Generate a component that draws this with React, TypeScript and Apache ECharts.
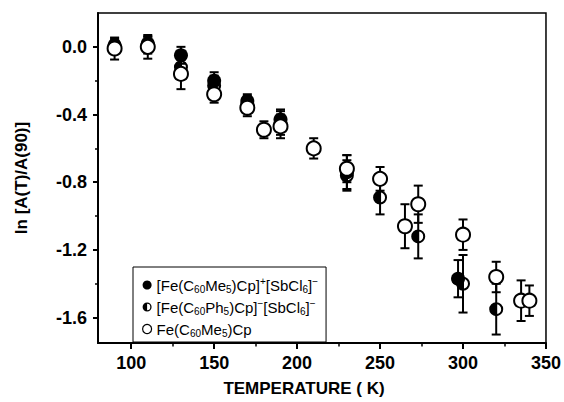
import React, { useEffect, useRef } from "react";
import * as echarts from "echarts";

// ---- data ----
const seriesNames = [
  "[Fe(C₆₀Me₅)Cp]⁺[SbCl₆]⁻",
  "[Fe(C₆₀Ph₅)Cp]⁻[SbCl₆]⁻",
  "Fe(C₆₀Me₅)Cp",
];
const legendRichText = [
  "[Fe(C{s|60}Me{s|5})Cp]{p|+}[SbCl{s|6}]{p|−}",
  "[Fe(C{s|60}Ph{s|5})Cp]{p|−}[SbCl{s|6}]{p|−}",
  "Fe(C{s|60}Me{s|5})Cp",
];

const tempMe5Cation = [90, 110, 130, 150, 170, 190, 230, 297];
const lnMe5Cation = [0.01, 0.02, -0.05, -0.2, -0.32, -0.43, -0.74, -1.37];
const errMe5Cation = [0.04, 0.04, 0.05, 0.05, 0.04, 0.06, 0.1, 0.11];

const tempPh5Salt = [90, 110, 130, 150, 170, 190, 230, 250, 273, 300, 320];
const lnPh5Salt = [0.0, 0.01, -0.12, -0.23, -0.34, -0.45, -0.76, -0.89, -1.12, -1.4, -1.55];
const errPh5Salt = [0.04, 0.05, 0.07, 0.06, 0.05, 0.07, 0.09, 0.1, 0.13, 0.17, 0.15];

const tempNeutral = [90, 110, 130, 150, 170, 180, 190, 210, 230, 250, 265, 273, 300, 320, 335, 340];
const lnNeutral = [-0.01, 0.0, -0.16, -0.28, -0.36, -0.49, -0.47, -0.6, -0.72, -0.78, -1.06, -0.93, -1.11, -1.36, -1.5, -1.5];
const errNeutral = [0.065, 0.07, 0.09, 0.05, 0.05, 0.05, 0.07, 0.06, 0.08, 0.07, 0.13, 0.11, 0.09, 0.09, 0.12, 0.09];

const xMajorTicks = [100, 150, 200, 250, 300, 350];
const xMinorTicks = [125, 175, 225, 275, 325];
const yMajorTicks = [0, -0.4, -0.8, -1.2, -1.6];
const yMinorTicks = [-0.2, -0.6, -1.0, -1.4];

const FONT = '"Liberation Sans", Arial, Helvetica, sans-serif';

const HALF_PATH =
  "path://M10 0 A10 10 0 1 1 10 20 A10 10 0 1 1 10 0 Z " +
  "M10 2.9 A7.1 7.1 0 1 0 10 17.1 A7.1 7.1 0 1 0 10 2.9 Z " +
  "M10 2.9 A7.1 7.1 0 0 0 10 17.1 L10 2.9 Z";

function toPoints(xs: number[], ys: number[], es: number[]) {
  return xs.map((x, i) => [x, ys[i], es[i]]);
}

function errorBarSeries(name: string, data: number[][]) {
  return {
    type: "custom",
    name,
    data,
    encode: { x: 0, y: 1 },
    z: 1,
    silent: true,
    renderItem: (_params: any, api: any) => {
      const x = api.value(0);
      const y = api.value(1);
      const e = api.value(2);
      const top = api.coord([x, y + e]);
      const bot = api.coord([x, y - e]);
      const hw = 4.5;
      const st = { stroke: "#000", lineWidth: 2 };
      return {
        type: "group",
        children: [
          { type: "line", shape: { x1: top[0], y1: top[1], x2: bot[0], y2: bot[1] }, style: st },
          { type: "line", shape: { x1: top[0] - hw, y1: top[1], x2: top[0] + hw, y2: top[1] }, style: st },
          { type: "line", shape: { x1: bot[0] - hw, y1: bot[1], x2: bot[0] + hw, y2: bot[1] }, style: st },
        ],
      };
    },
  };
}

export default function App() {
  const ref = useRef<HTMLDivElement>(null);
  useEffect(() => {
    if (!ref.current) return;
    const chart = echarts.init(ref.current, undefined, { renderer: "svg" });
    const option: any = {
      animation: false,
      backgroundColor: "#fff",
      grid: {
        left: 98,
        right: 18,
        top: 13,
        bottom: 53,
        show: true,
        borderColor: "#000",
        borderWidth: 1.5,
        backgroundColor: "transparent",
      },
      legend: {
        orient: "vertical",
        left: 133,
        top: 267,
        padding: [9, 8, 4, 9],
        itemGap: 4,
        itemWidth: 9,
        itemHeight: 9,
        borderColor: "#000",
        borderWidth: 1,
        borderRadius: 0,
        backgroundColor: "#fff",
        data: [
          { name: seriesNames[0] },
          { name: seriesNames[1] },
          { name: seriesNames[2], itemStyle: { borderWidth: 1.2 } },
        ],
        formatter: (name: string) => legendRichText[seriesNames.indexOf(name)],
        textStyle: {
          fontFamily: FONT,
          fontSize: 15,
          color: "#000",
          lineHeight: 18,
          rich: {
            s: { fontFamily: FONT, fontSize: 10, verticalAlign: "bottom", lineHeight: 10, color: "#000" },
            p: { fontFamily: FONT, fontSize: 10, verticalAlign: "top", lineHeight: 10, color: "#000" },
          },
        },
      },
      xAxis: [
        {
          type: "value",
          min: 80,
          max: 350,
          position: "bottom",
          name: "TEMPERATURE ( K)",
          nameLocation: "middle",
          nameGap: 37,
          nameTextStyle: {
            fontFamily: FONT,
            fontWeight: "bold",
            fontSize: 17,
            color: "#000",
            padding: [0, 36, 0, 0],
          },
          axisLine: { show: true, onZero: false, lineStyle: { color: "#000", width: 2 } },
          axisTick: { show: true, length: 6, lineStyle: { color: "#000", width: 2 }, customValues: xMajorTicks },
          axisLabel: {
            customValues: xMajorTicks,
            margin: 11,
            fontFamily: FONT,
            fontWeight: "bold",
            fontSize: 18,
            color: "#000",
          },
          splitLine: { show: false },
        },
        {
          type: "value",
          min: 80,
          max: 350,
          position: "bottom",
          axisLine: { show: false, onZero: false },
          axisTick: { show: true, length: 3.5, lineStyle: { color: "#000", width: 1.5 }, customValues: xMinorTicks },
          axisLabel: { show: false },
          splitLine: { show: false },
        },
      ],
      yAxis: [
        {
          type: "value",
          min: -1.75,
          max: 0.2,
          position: "left",
          name: "ln [A(T)/A(90)]",
          nameLocation: "middle",
          nameRotate: 90,
          nameGap: 68,
          nameTextStyle: { fontFamily: FONT, fontWeight: "bold", fontSize: 17, color: "#000" },
          axisLine: { show: true, onZero: false, lineStyle: { color: "#000", width: 2 } },
          axisTick: { show: true, length: 5, lineStyle: { color: "#000", width: 2 }, customValues: yMajorTicks },
          axisLabel: {
            customValues: yMajorTicks,
            margin: 11,
            fontFamily: FONT,
            fontWeight: "bold",
            fontSize: 18,
            color: "#000",
            formatter: (v: number) => (Math.abs(v) < 1e-9 ? "0.0" : v.toFixed(1)),
          },
          splitLine: { show: false },
        },
        {
          type: "value",
          min: -1.75,
          max: 0.2,
          position: "left",
          axisLine: { show: false, onZero: false },
          axisTick: { show: true, length: 3, lineStyle: { color: "#000", width: 1.5 }, customValues: yMinorTicks },
          axisLabel: { show: false },
          splitLine: { show: false },
        },
      ],
      series: [
        errorBarSeries("err0", toPoints(tempMe5Cation, lnMe5Cation, errMe5Cation)),
        errorBarSeries("err1", toPoints(tempPh5Salt, lnPh5Salt, errPh5Salt)),
        errorBarSeries("err2", toPoints(tempNeutral, lnNeutral, errNeutral)),
        {
          type: "scatter",
          name: seriesNames[0],
          data: toPoints(tempMe5Cation, lnMe5Cation, errMe5Cation),
          encode: { x: 0, y: 1 },
          symbol: "circle",
          symbolSize: 14,
          itemStyle: { color: "#000", opacity: 1 },
          z: 3,
        },
        {
          type: "scatter",
          name: seriesNames[1],
          data: toPoints(tempPh5Salt, lnPh5Salt, errPh5Salt),
          encode: { x: 0, y: 1 },
          symbol: HALF_PATH,
          symbolSize: 14,
          itemStyle: { color: "#000", opacity: 1 },
          z: 4,
        },
        {
          type: "scatter",
          name: seriesNames[2],
          data: toPoints(tempNeutral, lnNeutral, errNeutral),
          encode: { x: 0, y: 1 },
          symbol: "circle",
          symbolSize: 14,
          itemStyle: { color: "#fff", borderColor: "#000", borderWidth: 2, opacity: 1 },
          z: 5,
        },
      ],
    };
    chart.setOption(option);
    return () => chart.dispose();
  }, []);
  return (
    <div
      ref={ref}
      style={{ position: "fixed", left: 0, top: 0, width: 564, height: 402, background: "#fff" }}
    />
  );
}
